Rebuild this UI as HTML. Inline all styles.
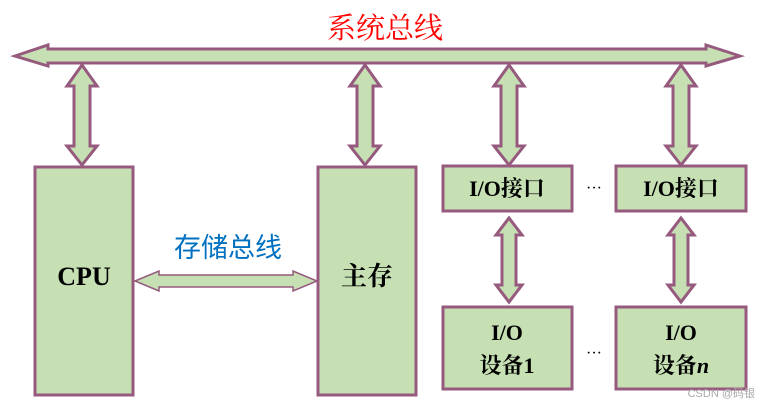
<!DOCTYPE html>
<html><head><meta charset="utf-8"><style>
body{margin:0;background:#fff;width:770px;height:407px;overflow:hidden}
svg{display:block}
.b{fill:#c6e0b4;stroke:#955a7d;stroke-width:3}
.a{fill:#c6e0b4;stroke:#955a7d;stroke-width:3;stroke-linejoin:miter}
.t{font-family:"Liberation Serif","Noto Serif CJK SC",serif;font-weight:bold;fill:#000}
</style></head><body>
<svg width="770" height="407" viewBox="0 0 770 407">
<text x="385" y="38" text-anchor="middle" font-family="'Liberation Serif','Noto Serif CJK SC',serif" font-size="29" fill="#ff0000">系统总线</text>
<!-- system bus -->
<polygon class="a" points="15,56 48,45 48,49 706,49 706,45 740,56 706,66 706,63 48,63 48,66"/>
<!-- vertical arrows top -->
<g id="v">
<polygon class="a" points="82,65 97,86 90,86 90,146 97,146 82,165 67,146 74,146 74,86 67,86"/>
</g>
<use href="#v" x="283"/>
<use href="#v" x="427"/>
<use href="#v" x="599"/>
<!-- lower arrows -->
<polygon class="a" points="509,218 522,235 516,235 516,285 522,285 509,302 496,285 502,285 502,235 496,235"/>
<polygon class="a" points="681,218 694,235 688,235 688,285 694,285 681,302 668,285 674,285 674,235 668,235"/>
<!-- boxes -->
<rect class="b" x="35" y="167" width="98" height="228"/>
<rect class="b" x="318" y="167" width="98" height="228"/>
<rect class="b" x="443" y="166" width="129" height="45"/>
<rect class="b" x="616" y="166" width="130" height="45"/>
<rect class="b" x="443" y="307" width="129" height="82"/>
<rect class="b" x="616" y="307" width="130" height="82"/>
<!-- storage bus -->
<polygon fill="#c6e0b4" stroke="#955a7d" stroke-width="1.5" points="135,281 159,271 159,275 293,275 293,271 317,281 293,291 293,287 159,287 159,291"/>
<text x="228" y="257" text-anchor="middle" font-family="'Liberation Sans','Noto Sans CJK SC',sans-serif" font-size="27" fill="#0070c0">存储总线</text>
<text class="t" x="84" y="285" text-anchor="middle" font-size="26">CPU</text>
<text class="t" x="367" y="285" text-anchor="middle" font-size="26">主存</text>
<text class="t" x="507" y="196" text-anchor="middle" font-size="22">I/O接口</text>
<text class="t" x="681" y="196" text-anchor="middle" font-size="22">I/O接口</text>
<text class="t" x="507" y="340" text-anchor="middle" font-size="22">I/O</text>
<text class="t" x="507" y="373" text-anchor="middle" font-size="22">设备1</text>
<text class="t" x="681" y="340" text-anchor="middle" font-size="22">I/O</text>
<text class="t" x="681" y="373" text-anchor="middle" font-size="22">设备<tspan font-style="italic">n</tspan></text>
<text x="594" y="193" text-anchor="middle" font-family="'Liberation Serif',serif" font-size="16" fill="#000">···</text>
<text x="594" y="358" text-anchor="middle" font-family="'Liberation Serif',serif" font-size="16" fill="#000">···</text>
<text x="755" y="397" text-anchor="end" font-family="'Liberation Sans','Noto Sans CJK SC',sans-serif" font-size="11" fill="#aaa">CSDN @码银</text>
</svg>
</body></html>
